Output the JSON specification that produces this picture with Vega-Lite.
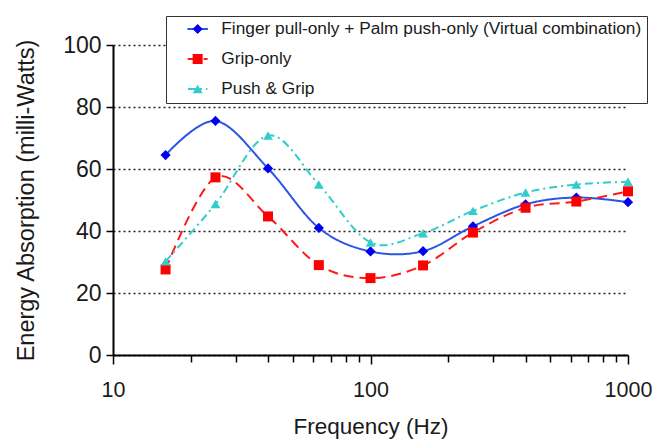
{
  "$schema": "https://vega.github.io/schema/vega-lite/v6.json",
  "width": 515,
  "height": 310,
  "autosize": {"type": "none"},
  "padding": {"left": 113, "top": 45, "right": 37, "bottom": 85},
  "background": "white",
  "config": {"view": {"stroke": null}, "font": "Liberation Sans"},
  "data": {"values": [
    {"freq": 16, "series": "Finger pull-only + Palm push-only (Virtual combination)", "value": 64.5},
    {"freq": 25, "series": "Finger pull-only + Palm push-only (Virtual combination)", "value": 75.5},
    {"freq": 40, "series": "Finger pull-only + Palm push-only (Virtual combination)", "value": 60.2},
    {"freq": 63, "series": "Finger pull-only + Palm push-only (Virtual combination)", "value": 41.0},
    {"freq": 100, "series": "Finger pull-only + Palm push-only (Virtual combination)", "value": 33.4},
    {"freq": 160, "series": "Finger pull-only + Palm push-only (Virtual combination)", "value": 33.5},
    {"freq": 250, "series": "Finger pull-only + Palm push-only (Virtual combination)", "value": 41.5},
    {"freq": 400, "series": "Finger pull-only + Palm push-only (Virtual combination)", "value": 48.6},
    {"freq": 630, "series": "Finger pull-only + Palm push-only (Virtual combination)", "value": 50.8},
    {"freq": 1000, "series": "Finger pull-only + Palm push-only (Virtual combination)", "value": 49.3},
    {"freq": 16, "series": "Grip-only", "value": 27.6},
    {"freq": 25, "series": "Grip-only", "value": 57.3},
    {"freq": 40, "series": "Grip-only", "value": 44.7},
    {"freq": 63, "series": "Grip-only", "value": 29.0},
    {"freq": 100, "series": "Grip-only", "value": 24.8},
    {"freq": 160, "series": "Grip-only", "value": 28.9},
    {"freq": 250, "series": "Grip-only", "value": 39.5},
    {"freq": 400, "series": "Grip-only", "value": 47.5},
    {"freq": 630, "series": "Grip-only", "value": 49.5},
    {"freq": 1000, "series": "Grip-only", "value": 52.8},
    {"freq": 16, "series": "Push & Grip", "value": 30.2},
    {"freq": 25, "series": "Push & Grip", "value": 48.7},
    {"freq": 40, "series": "Push & Grip", "value": 70.8},
    {"freq": 63, "series": "Push & Grip", "value": 55.0},
    {"freq": 100, "series": "Push & Grip", "value": 36.3},
    {"freq": 160, "series": "Push & Grip", "value": 39.3},
    {"freq": 250, "series": "Push & Grip", "value": 46.5},
    {"freq": 400, "series": "Push & Grip", "value": 52.4},
    {"freq": 630, "series": "Push & Grip", "value": 55.0},
    {"freq": 1000, "series": "Push & Grip", "value": 55.9}
  ]},
  "encoding": {
    "x": {
      "field": "freq",
      "type": "quantitative",
      "title": "Frequency (Hz)",
      "scale": {"type": "log", "domain": [10, 1000], "nice": false},
      "axis": {
        "values": [10, 20, 30, 40, 50, 60, 70, 80, 90, 100, 200, 300, 400, 500, 600, 700, 800, 900, 1000],
        "labelExpr": "datum.value == 10 || datum.value == 100 || datum.value == 1000 ? toString(datum.value) : ''",
        "grid": false,
        "domainColor": "#000",
        "domainWidth": 2,
        "tickColor": "#000",
        "tickWidth": 1.5,
        "tickSize": {"condition": {"test": "datum.value == 10 || datum.value == 100 || datum.value == 1000", "value": 9}, "value": 7},
        "labelFont": "Liberation Sans",
        "labelFontSize": 21.5,
        "labelColor": "#1a1a1a",
        "labelPadding": 15,
        "labelFlush": false,
        "labelOverlap": false,
        "titleFont": "Liberation Sans",
        "titleFontSize": 22.5,
        "titleFontWeight": "normal",
        "titleColor": "#1a1a1a",
        "titlePadding": 15
      }
    },
    "y": {
      "field": "value",
      "type": "quantitative",
      "title": "Energy Absorption (milli-Watts)",
      "scale": {"domain": [0, 100], "nice": false},
      "axis": {
        "values": [0, 20, 40, 60, 80, 100],
        "grid": true,
        "gridDash": [2, 3],
        "gridColor": "#222",
        "gridWidth": 1.5,
        "domainColor": "#000",
        "domainWidth": 2,
        "tickColor": "#000",
        "tickWidth": 1.5,
        "tickSize": 7,
        "labelFont": "Liberation Sans",
        "labelFontSize": 23,
        "labelColor": "#1a1a1a",
        "labelPadding": 5,
        "titleFont": "Liberation Sans",
        "titleFontSize": 23.5,
        "titleFontWeight": "normal",
        "titleColor": "#1a1a1a",
        "titlePadding": 24
      }
    }
  },
  "layer": [
    {
      "mark": {"type": "line", "interpolate": "cardinal", "strokeWidth": 2},
      "encoding": {
        "color": {
          "field": "series",
          "type": "nominal",
          "scale": {"domain": ["Finger pull-only + Palm push-only (Virtual combination)", "Grip-only", "Push & Grip"], "range": ["#2a55e4", "#ff1a1a", "#33cccc"]},
          "legend": {"orient": "none", "legendX": 53, "legendY": -29, "title": null, "symbolType": "M-2,0H2", "symbolSize": 256, "symbolStrokeWidth": 2, "symbolOffset": 18, "labelOffset": 15, "labelFontSize": 17.3, "labelFont": "Liberation Sans", "labelColor": "#1a1a1a", "padding": 5, "clipHeight": 16, "rowPadding": 12, "strokeColor": "#333", "fillColor": "white", "labelLimit": 700}
        },
        "strokeDash": {
          "field": "series",
          "type": "nominal",
          "scale": {"domain": ["Finger pull-only + Palm push-only (Virtual combination)", "Grip-only", "Push & Grip"], "range": [[1, 0], [10, 6], [8, 4, 2, 4]]},
          "legend": {"orient": "none", "legendX": 53, "legendY": -29, "title": null, "symbolType": "M-2,0H2", "symbolSize": 256, "symbolStrokeWidth": 2, "symbolOffset": 18, "labelOffset": 15, "labelFontSize": 17.3, "labelFont": "Liberation Sans", "labelColor": "#1a1a1a", "padding": 5, "clipHeight": 16, "rowPadding": 12, "strokeColor": "#333", "fillColor": "white", "labelLimit": 700}
        }
      }
    },
    {
      "mark": {"type": "point", "filled": true, "opacity": 1},
      "encoding": {
        "size": {
          "field": "series",
          "type": "nominal",
          "scale": {"domain": ["Finger pull-only + Palm push-only (Virtual combination)", "Grip-only", "Push & Grip"], "range": [105, 95, 130]},
          "legend": null
        },
        "fill": {
          "field": "series",
          "type": "nominal",
          "scale": {"range": ["#0000ee", "#ff0000", "#33cccc"]},
          "legend": {"orient": "none", "legendX": 53, "legendY": -29, "title": null, "symbolSize": 100, "symbolStrokeWidth": 0, "symbolOpacity": 1, "symbolOffset": 18, "labelExpr": "''", "labelOffset": 15, "labelFontSize": 17.3, "labelFont": "Liberation Sans", "padding": 5, "clipHeight": 16, "rowPadding": 12, "labelLimit": 700}
        },
        "shape": {
          "field": "series",
          "type": "nominal",
          "scale": {"range": ["diamond", "square", "triangle-up"]},
          "legend": {"orient": "none", "legendX": 53, "legendY": -29, "title": null, "symbolSize": 100, "symbolStrokeWidth": 0, "symbolOpacity": 1, "symbolOffset": 18, "labelExpr": "''", "labelOffset": 15, "labelFontSize": 17.3, "labelFont": "Liberation Sans", "padding": 5, "clipHeight": 16, "rowPadding": 12, "labelLimit": 700}
        }
      }
    }
  ]
}
